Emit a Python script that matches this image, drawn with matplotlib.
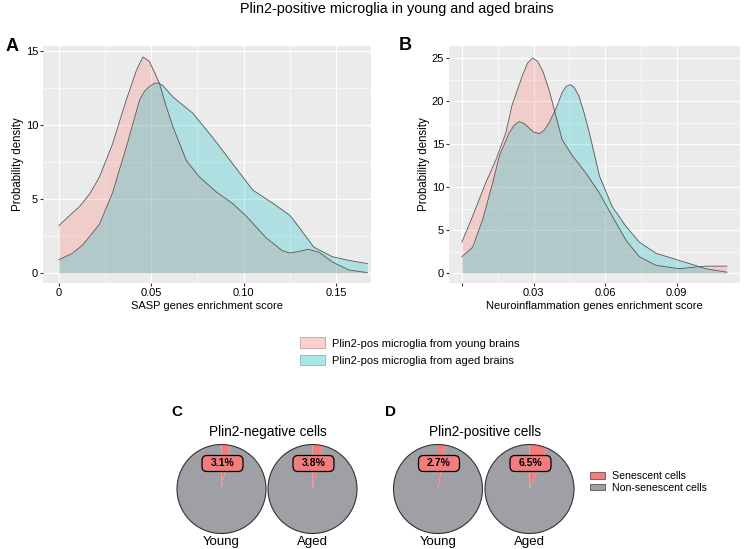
import numpy as np
import matplotlib.pyplot as plt
from matplotlib.patches import Patch, FancyBboxPatch

plt.rcParams['font.family'] = ['Liberation Sans', 'DejaVu Sans']

W, H = 746, 549

# panel A: SASP score densities
sasp_x = [0, 0.006, 0.0113, 0.017, 0.022, 0.029, 0.0365, 0.039, 0.042, 0.0455, 0.049,
          0.052, 0.0545, 0.058, 0.0617, 0.069, 0.076, 0.085, 0.094, 0.101, 0.112,
          0.121, 0.125, 0.130, 0.135, 0.141, 0.148, 0.157, 0.167]
sasp_young = [3.2, 3.9, 4.5, 5.4, 6.5, 8.7, 11.7, 12.6, 13.7, 14.6, 14.3,
              13.5, 12.8, 11.3, 9.9, 7.6, 6.5, 5.5, 4.7, 3.9, 2.4,
              1.5, 1.35, 1.45, 1.6, 1.4, 0.75, 0.2, 0.02]
sasp_x2 = [0, 0.007, 0.013, 0.022, 0.029, 0.0365, 0.0437, 0.0465, 0.049, 0.0515, 0.0536,
           0.056, 0.0617, 0.0725, 0.083, 0.094, 0.105, 0.116, 0.125, 0.130, 0.138,
           0.148, 0.157, 0.167]
sasp_aged = [0.9, 1.3, 1.9, 3.3, 5.4, 8.5, 11.7, 12.3, 12.6, 12.8, 12.85,
             12.7, 11.9, 10.8, 9.2, 7.4, 5.6, 4.7, 3.9, 3.1, 1.75,
             1.1, 0.85, 0.63]

# panel B: neuroinflammation score densities
neuro_x = [0, 0.0045, 0.010, 0.0143, 0.0184, 0.021, 0.0254, 0.0275, 0.0296, 0.0318, 0.034,
           0.0365, 0.0387, 0.042, 0.0464, 0.052, 0.0576, 0.063, 0.0688, 0.0743, 0.0813,
           0.091, 0.098, 0.102, 0.111]
neuro_young = [3.6, 6.6, 10.5, 13.2, 16.3, 19.5, 23.0, 24.4, 25.0, 24.6, 23.4,
               21.3, 19.0, 15.5, 13.6, 11.6, 9.3, 6.6, 3.8, 1.9, 0.9,
               0.5, 0.7, 0.8, 0.8]
neuro_x2 = [0, 0.0045, 0.0087, 0.0129, 0.0157, 0.0198, 0.022, 0.024, 0.026, 0.028, 0.030,
            0.0324, 0.0345, 0.0366, 0.0394, 0.042, 0.0437, 0.0454, 0.047, 0.049, 0.051,
            0.0534, 0.0576, 0.063, 0.0688, 0.0743, 0.0813, 0.0883, 0.0953, 0.102, 0.111]
neuro_aged = [1.9, 3.0, 6.2, 10.5, 13.6, 16.3, 17.2, 17.6, 17.4, 16.9, 16.4,
              16.2, 16.6, 17.5, 19.1, 21.0, 21.7, 21.9, 21.6, 20.6, 18.8,
              16.3, 11.3, 7.7, 5.4, 3.6, 2.3, 1.7, 1.1, 0.5, 0.1]

# panels C/D: percent senescent
pie_groups = ['Young', 'Aged', 'Young', 'Aged']
pie_senescent = [3.1, 3.8, 2.7, 6.5]

pink = '#F8766D'
teal = '#00BFC4'


def px_rect(left, top, right, bottom):
    return [left / W, 1 - bottom / H, (right - left) / W, (bottom - top) / H]


def density_panel(ax, xa, ya, xb, yb, xlim, ylim, xticks, xticklabels, yticks, xlabel):
    ax.set_facecolor('#EBEBEB')
    ax.fill_between(xa, ya, 0, color=pink, alpha=0.25, lw=0)
    ax.fill_between(xb, yb, 0, color=teal, alpha=0.25, lw=0)
    ax.plot(xa, ya, color='#555555', lw=0.6)
    ax.plot(xb, yb, color='#555555', lw=0.6)
    ax.set_xlim(*xlim)
    ax.set_ylim(*ylim)
    ax.set_xticks(xticks)
    ax.set_xticklabels(xticklabels)
    ax.set_yticks(yticks)
    ax.set_xticks([(a + b) / 2 for a, b in zip(xticks[:-1], xticks[1:])], minor=True)
    ax.set_yticks([(a + b) / 2 for a, b in zip(yticks[:-1], yticks[1:])], minor=True)
    ax.grid(True, which='major', color='white', lw=0.9)
    ax.grid(True, which='minor', color='white', lw=0.4)
    ax.set_axisbelow(True)
    for s in ax.spines.values():
        s.set_visible(False)
    ax.tick_params(which='major', length=2, color='#333333', labelsize=8, pad=1.5)
    ax.tick_params(which='minor', length=0)
    ax.set_xlabel(xlabel, fontsize=8, labelpad=2)
    ax.set_ylabel('Probability density', fontsize=8.3, labelpad=1)


fig = plt.figure(figsize=(W / 100, H / 100), dpi=100)
fig.text(397 / W, 1 - 9 / H, 'Plin2-positive microglia in young and aged brains',
         ha='center', va='center', fontsize=10.4)

axA = fig.add_axes(px_rect(43, 46, 371, 283))
density_panel(axA, sasp_x, sasp_young, sasp_x2, sasp_aged,
              (-0.0086, 0.169), (-0.68, 15.34),
              [0, 0.05, 0.10, 0.15], ['0', '0.05', '0.10', '0.15'],
              [0, 5, 10, 15], 'SASP genes enrichment score')

axB = fig.add_axes(px_rect(449, 46, 740, 283))
density_panel(axB, neuro_x, neuro_young, neuro_x2, neuro_aged,
              (-0.0054, 0.1165), (-1.16, 26.4),
              [0, 0.03, 0.06, 0.09], ['', '0.03', '0.06', '0.09'],
              [0, 5, 10, 15, 20, 25], 'Neuroinflammation genes enrichment score')

fig.text(12 / W, 1 - 47 / H, 'A', fontsize=13, fontweight='bold', ha='center', va='center')
fig.text(405 / W, 1 - 46 / H, 'B', fontsize=13, fontweight='bold', ha='center', va='center')

handles = [Patch(facecolor=pink, alpha=0.35, edgecolor='#333333', lw=0.6),
           Patch(facecolor=teal, alpha=0.35, edgecolor='#333333', lw=0.6)]
leg = fig.legend(handles, ['Plin2-pos microglia from young brains',
                           'Plin2-pos microglia from aged brains'],
                 loc='upper left', bbox_to_anchor=(296 / W, 1 - 333 / H),
                 frameon=False, fontsize=8, handlelength=2.2, handleheight=1.1,
                 labelspacing=0.55, handletextpad=0.6, borderaxespad=0)

# pies, drawn in a pixel-coordinate axes
axP = fig.add_axes([0, 0, 1, 1])
axP.patch.set_alpha(0)

centers = [(221.5, 489), (312.5, 489), (438, 489), (529.5, 489)]
r = 44.5
sen_col = '#F47C7C'
non_col = '#A09FA5'
for (cx, cy), grp, pct in zip(centers, pie_groups, pie_senescent):
    axP.pie([pct, 100 - pct], colors=[sen_col, non_col], startangle=90,
            counterclock=False, center=(cx, H - cy), radius=r,
            wedgeprops=dict(edgecolor='none'))
    circ = plt.Circle((cx, H - cy), r, fill=False, ec='#333333', lw=0.8)
    axP.add_patch(circ)
    bw, bh = 36, 11
    box = FancyBboxPatch((cx + 1 - bw / 2, H - (cy - 25.5) - bh / 2), bw, bh,
                         boxstyle='round,pad=2.5,rounding_size=5',
                         fc=sen_col, ec='black', lw=0.9)
    axP.add_patch(box)
    axP.text(cx + 1, H - (cy - 25.5), f'{pct}%', ha='center', va='center', fontsize=7.5,
             fontweight='bold')
    axP.text(cx, H - 542, grp, ha='center', va='center', fontsize=9.5)

axP.text(177, H - 412, 'C', fontsize=11, fontweight='bold', ha='center', va='center')
axP.text(390, H - 412, 'D', fontsize=11, fontweight='bold', ha='center', va='center')
axP.text(268, H - 432, 'Plin2-negative cells', fontsize=9.8, ha='center', va='center')
axP.text(485, H - 432, 'Plin2-positive cells', fontsize=9.8, ha='center', va='center')
axP.set_xlim(0, W)
axP.set_ylim(0, H)
axP.set_aspect('auto')
axP.axis('off')

pie_handles = [Patch(facecolor=sen_col, edgecolor='#555555', lw=0.6),
               Patch(facecolor=non_col, edgecolor='#555555', lw=0.6)]
fig.legend(pie_handles, ['Senescent cells', 'Non-senescent cells'],
           loc='upper left', bbox_to_anchor=(586 / W, 1 - 467 / H),
           frameon=False, fontsize=7.6, handlelength=1.4, handleheight=0.6,
           labelspacing=0.15, handletextpad=0.7, borderaxespad=0)

fig.savefig('out.png', dpi=100)
